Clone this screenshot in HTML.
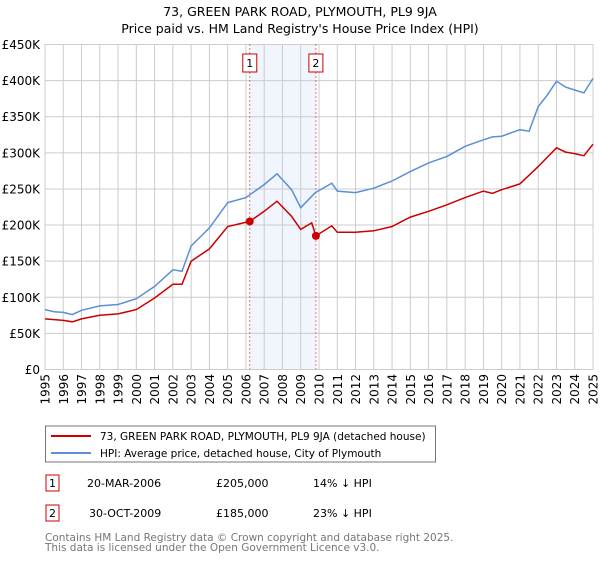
<!DOCTYPE html>
<html><head><meta charset="utf-8"><style>
body{margin:0;background:#fff;font-family:"Liberation Sans","DejaVu Sans",sans-serif;}
svg text{font-family:"DejaVu Sans","Liberation Sans",sans-serif;}
</style></head><body>
<svg id="c" width="600" height="560" xmlns="http://www.w3.org/2000/svg">
<text x="300" y="16" text-anchor="middle" font-size="12.5">73, GREEN PARK ROAD, PLYMOUTH, PL9 9JA</text>
<text x="300" y="33" text-anchor="middle" font-size="12.5">Price paid vs. HM Land Registry's House Price Index (HPI)</text>
<g id="grid"></g><g id="marks"></g>
<rect x="45.5" y="426" width="390" height="36" fill="none" stroke="#777"/>
<line x1="51" y1="436" x2="91" y2="436" stroke="#cc0000" stroke-width="2"/>
<text x="100" y="440" font-size="10.5">73, GREEN PARK ROAD, PLYMOUTH, PL9 9JA (detached house)</text>
<line x1="51" y1="453" x2="91" y2="453" stroke="#5b8fd6" stroke-width="2"/>
<text x="100" y="457" font-size="10.5">HPI: Average price, detached house, City of Plymouth</text>
<g font-size="11">
<rect x="46" y="475" width="13" height="16" fill="none" stroke="#cc0000"/><text x="52.5" y="487" text-anchor="middle">1</text>
<text x="87" y="487">20-MAR-2006</text><text x="216" y="487">£205,000</text><text x="313" y="487">14% ↓ HPI</text>
<rect x="46" y="505" width="13" height="16" fill="none" stroke="#cc0000"/><text x="52.5" y="517" text-anchor="middle">2</text>
<text x="89" y="517">30-OCT-2009</text><text x="216" y="517">£185,000</text><text x="313" y="517">23% ↓ HPI</text>
</g>
<text x="45" y="541" font-size="10.5" fill="#777">Contains HM Land Registry data © Crown copyright and database right 2025.</text>
<text x="45" y="551" font-size="10.5" fill="#777">This data is licensed under the Open Government Licence v3.0.</text>
</svg>
<script>
const hpiYears=[1995,1995.5,1996,1996.5,1997,1998,1999,2000,2001,2002,2002.5,2003,2004,2005,2006,2007,2007.7,2008.5,2009,2009.8,2010.7,2011,2012,2013,2014,2015,2016,2017,2018,2019,2019.5,2020,2021,2021.5,2022,2022.5,2023,2023.5,2024,2024.5,2025];
const hpiValues=[83,80,79,76,82,88,90,98,115,138,136,171,196,231,238,256,271,249,224,245,258,247,245,251,261,274,286,295,309,318,322,323,332,330,364,380,399,391,387,383,403];
const ppYears=[1995,1996,1996.5,1997,1998,1999,2000,2001,2002,2002.5,2003,2004,2005,2006.21,2007,2007.7,2008.5,2009,2009.6,2009.83,2010.7,2011,2012,2013,2014,2015,2016,2017,2018,2019,2019.5,2020,2021,2022,2023,2023.5,2024,2024.5,2025];
const ppValues=[70,68,66,70,75,77,83,99,118,118,150,167,198,205,219,233,212,194,203,185,199,190,190,192,198,211,219,228,238,247,244,249,257,281,307,301,299,296,312];
const saleYears=[2006.21,2009.83];
const saleValues=[205,185];
const saleLabels=["1","2"];
const yTicks=[0,50,100,150,200,250,300,350,400,450];
const xTicks=[1995,1996,1997,1998,1999,2000,2001,2002,2003,2004,2005,2006,2007,2008,2009,2010,2011,2012,2013,2014,2015,2016,2017,2018,2019,2020,2021,2022,2023,2024,2025];
const NS="http://www.w3.org/2000/svg";
const X=y=>45+(y-1995)*(548/30), Y=v=>369.5-v*(325/450);
function mk(t,a,p){const e=document.createElementNS(NS,t);for(const k in a)e.setAttribute(k,a[k]);p.appendChild(e);return e;}
const g=document.getElementById('grid'),m=document.getElementById('marks');
const sh=mk('rect',{x:X(saleYears[0]),y:44,width:X(saleYears[1])-X(saleYears[0]),height:325.5,fill:'#eef3fc',opacity:0.8},g);


yTicks.forEach(v=>{
 const l=mk('line',{x1:45,x2:593,y1:Y(v),y2:Y(v),stroke:'#ccc'},g);
 
 
 const t=mk('text',{x:40,y:Y(v)+4.5,'text-anchor':'end','font-size':12},g);
 
 
 t.textContent=v===0?'£0':'£'+v+'K';
});
xTicks.forEach(yr=>{
 const l=mk('line',{x1:X(yr),x2:X(yr),y1:44,y2:369.5,stroke:'#ccc'},g);
 
 
 const t=mk('text',{x:0,y:0,'text-anchor':'end','font-size':12,transform:`translate(${X(yr)+4.5},374) rotate(-90)`},g);
 
 
 t.textContent=yr;
});
saleYears.forEach((yr,i)=>{
 const l=mk('line',{x1:X(yr),x2:X(yr),y1:44,y2:369.5,stroke:'#e05050','stroke-dasharray':'2,2','stroke-width':0.8},m);
 
 
 const r=mk('rect',{x:X(yr)-7,y:54,width:14,height:18,fill:'#fff',stroke:'#cc0000'},m);
 
 
 const t=mk('text',{x:X(yr),y:67,'text-anchor':'middle','font-size':11},m);
 
 
 t.textContent=saleLabels[i];
});
const pts=(xs,vs)=>xs.map((x,i)=>X(x).toFixed(1)+','+Y(vs[i]).toFixed(1)).join(' ');
const h=mk('polyline',{points:pts(hpiYears,hpiValues),fill:'none',stroke:'#5b8fd6','stroke-width':1.5},m);


const p=mk('polyline',{points:pts(ppYears,ppValues),fill:'none',stroke:'#cc0000','stroke-width':1.5},m);


saleYears.forEach((yr,i)=>{
 const c=mk('circle',{cx:X(yr),cy:Y(saleValues[i]),r:4,fill:'#cc0000'},m);
 
 
});
</script>
</body></html>
